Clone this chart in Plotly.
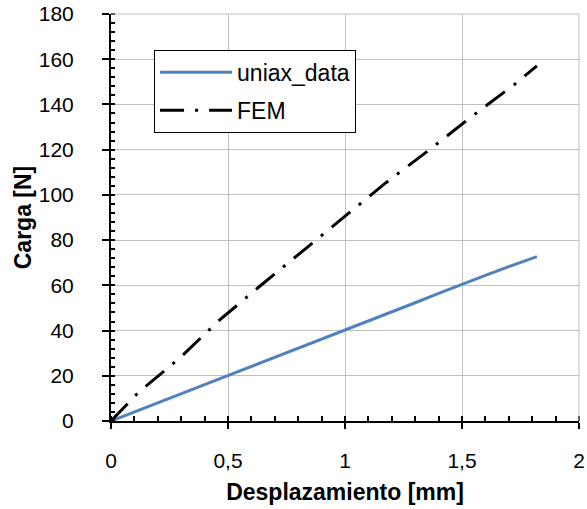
import plotly.graph_objects as go

uniax_x = [0, 0.1, 0.2, 0.3, 0.4, 0.5, 0.6, 0.7, 0.8, 0.9, 1.0, 1.1, 1.2, 1.3, 1.4, 1.5, 1.6, 1.7, 1.8, 1.82]
uniax_y = [0, 4.0, 8.1, 12.3, 16.1, 20.0, 24.0, 28.0, 32.0, 36.1, 40.2, 44.2, 48.2, 52.3, 56.4, 60.5, 64.4, 68.3, 71.9, 72.7]

fem_x = [0, 0.115, 0.295, 0.459, 0.637, 0.82, 0.997, 1.175, 1.36, 1.541, 1.726, 1.82]
fem_y = [0, 12.4, 28.0, 44.2, 59.7, 75.3, 90.1, 105.4, 119.9, 134.6, 149.0, 157.1]

x_ticks = [0, 0.5, 1, 1.5, 2]
x_labels = ["0", "0,5", "1", "1,5", "2"]
y_ticks = [0, 20, 40, 60, 80, 100, 120, 140, 160, 180]

FONT = "Liberation Sans, Arial, sans-serif"

fig = go.Figure()
fig.add_trace(go.Scatter(x=uniax_x, y=uniax_y, mode="lines", name="uniax_data",
                         legendgroup="a",
                         line=dict(color="#4F81BD", width=3)))
fig.add_trace(go.Scatter(x=fem_x, y=fem_y, mode="lines", name="FEM",
                         legendgroup="b",
                         line=dict(color="black", width=3, dash="24px,11px,3px,11px")))

fig.update_layout(
    width=587, height=509,
    margin=dict(l=111, r=8, t=14, b=88),
    paper_bgcolor="white", plot_bgcolor="white",
    separators=",.",
    font=dict(family=FONT, size=21, color="black"),
    showlegend=True,
    legend=dict(x=0.092, y=0.912, xanchor="left", yanchor="top",
                bordercolor="black", borderwidth=1, bgcolor="white",
                font=dict(size=23), itemwidth=72, traceorder="grouped",
                tracegroupgap=5),
    shapes=[
        dict(type="line", xref="paper", yref="paper", x0=0, x1=1, y0=1, y1=1,
             line=dict(color="#BFBFBF", width=1)),
        dict(type="line", xref="paper", yref="paper", x0=1, x1=1, y0=0, y1=1,
             line=dict(color="#BFBFBF", width=1)),
    ],
)

fig.update_xaxes(range=[0, 2], tickvals=x_ticks, ticktext=x_labels, automargin=False,
                 showgrid=True, gridcolor="#BFBFBF", gridwidth=1,
                 showline=True, linecolor="black", linewidth=2,
                 ticks="outside", ticklen=6, tickwidth=2, tickcolor="black",
                 minor=dict(dtick=0.1, ticks="inside", ticklen=5, tickwidth=1.5, tickcolor="black", showgrid=False),
                 ticklabelstandoff=14, zeroline=False,
                 title=dict(text="<b>Desplazamiento [mm]</b>", font=dict(size=23), standoff=13))
fig.update_yaxes(range=[0, 180], tickvals=y_ticks, automargin=False,
                 showgrid=True, gridcolor="#BFBFBF", gridwidth=1,
                 showline=True, linecolor="black", linewidth=2,
                 ticks="outside", ticklen=7, tickwidth=2, tickcolor="black",
                 minor=dict(dtick=4, ticks="inside", ticklen=4, tickwidth=1.5, tickcolor="black", showgrid=False),
                 ticklabelstandoff=24, zeroline=False,
                 title=dict(text="<b>Carga [N]</b>", font=dict(size=23), standoff=1))

fig.write_html("out.html")
